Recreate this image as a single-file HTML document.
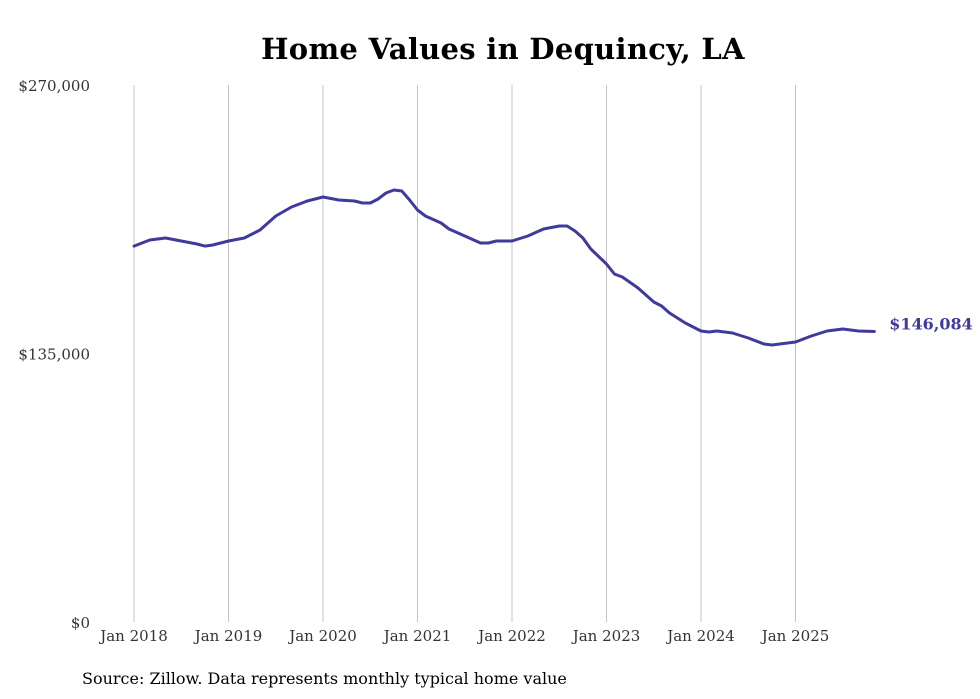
<!DOCTYPE html>
<html><head><meta charset="utf-8"><style>
html,body{margin:0;padding:0;background:#fff;}
svg{display:block;font-family:"DejaVu Serif","Liberation Serif",serif;}
</style></head><body>
<svg id="chart" width="980" height="699" viewBox="0 0 980 699">
<text x="503" y="59" text-anchor="middle" font-size="29" font-weight="bold" fill="#000" letter-spacing="0.3">Home Values in Dequincy, LA</text>
<g id="grid"></g>
<g id="yaxis"></g>
<g id="xaxis"></g>
<g id="series"></g>
<text x="82" y="684" font-size="16" fill="#000">Source: Zillow. Data represents monthly typical home value</text>
</svg>
<script>
const xTickLabels = ["Jan 2018","Jan 2019","Jan 2020","Jan 2021","Jan 2022","Jan 2023","Jan 2024","Jan 2025"];
const yTickValues = [0,135000,270000];
const yTickLabels = ["$0","$135,000","$270,000"];
const monthIndex = [0,2,4,6,8,9,10,12,14,16,18,20,22,24,26,28,29,30,31,32,33,34,35,36,37,39,40,42,44,45,46,48,50,52,54,55,56,57,58,60,61,62,64,66,67,68,70,72,73,74,76,78,80,81,84,86,88,90,92,94];
const homeValues = [189000,192070,193075,191567,190060,189000,189556,191567,193075,197098,204137,208662,211679,213690,212182,211679,210673,210673,212684,215701,217210,216707,212182,207154,204137,200617,197600,194081,190563,190563,191567,191567,194081,197600,199109,199109,196595,193075,187544,180002,174974,173466,167935,160896,158885,155365,150337,146315,145812,146315,145309,142795,139778,139276,140784,143801,146315,147320,146315,146084];
const lastLabel = "$146,084";

const NS="http://www.w3.org/2000/svg";
const x0=134, pxPerMonth=7.875;
const yTop=85, yBot=622, yMax=270000;
const xScale=m=>x0+m*pxPerMonth;
const yScale=v=>yBot-(v/yMax)*(yBot-yTop);
function mk(tag,attrs,parent){const e=document.createElementNS(NS,tag);for(const k in attrs)e.setAttribute(k,attrs[k]);parent.appendChild(e);return e;}
const grid=document.getElementById('grid'),xa=document.getElementById('xaxis'),ya=document.getElementById('yaxis'),ser=document.getElementById('series');
xTickLabels.forEach((lab,i)=>{
  const x=xScale(i*12);
  const l=mk('line',{x1:x,x2:x,y1:yTop,y2:yBot,stroke:'#c4c4c4','stroke-width':1},grid);
  
  
  const t=mk('text',{x:x,y:641,'text-anchor':'middle','font-size':15,fill:'#333'},xa);
  t.textContent=lab;
  
  
});
yTickValues.forEach((v,i)=>{
  const t=mk('text',{x:90,y:yScale(v)+6,'text-anchor':'end','font-size':15,fill:'#333'},ya);
  t.textContent=yTickLabels[i];
  
  
});
const d=monthIndex.map((m,i)=>(i?'L':'M')+xScale(m).toFixed(1)+','+yScale(homeValues[i]).toFixed(1)).join(' ');
const p=mk('path',{d:d,fill:'none',stroke:'#3f3a9c','stroke-width':3,'stroke-linejoin':'round','stroke-linecap':'round'},ser);


const li=homeValues.length-1;
const lt=mk('text',{x:xScale(monthIndex[li])+15,y:yScale(homeValues[li])-2,'font-size':16,'font-weight':'bold',fill:'#3f3a9c'},ser);
lt.textContent=lastLabel;


</script>
</body></html>
